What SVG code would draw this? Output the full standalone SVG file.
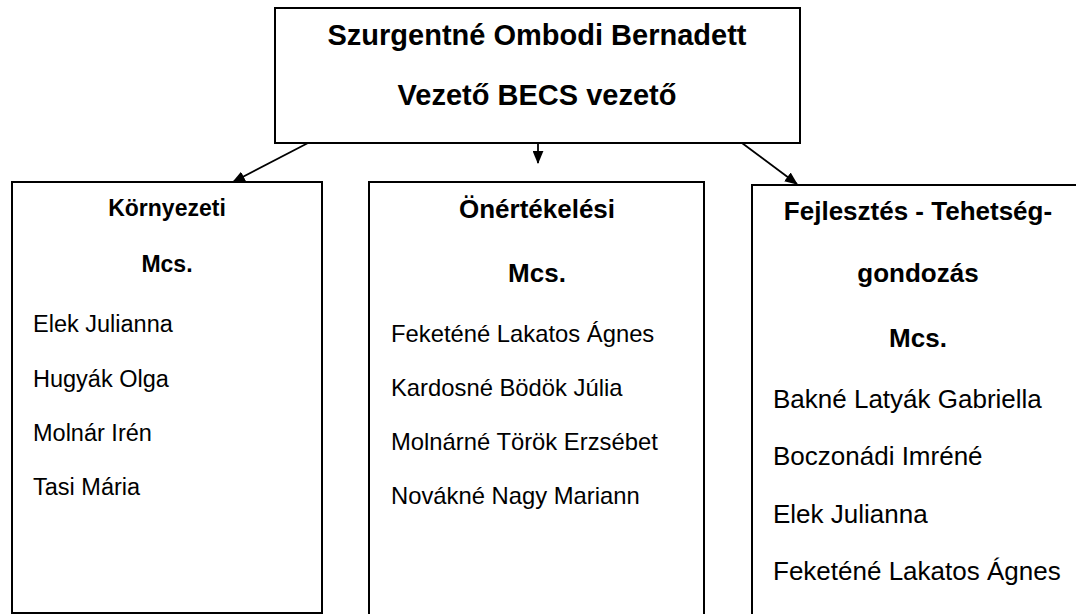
<svg xmlns="http://www.w3.org/2000/svg" width="1076" height="614" viewBox="0 0 1076 614">
<style>
.box{fill:#fff;stroke:#000;stroke-width:2}
.conn{stroke:#000;stroke-width:1.8;fill:none}
text{font-family:"Liberation Sans",Arial,sans-serif;fill:#000}
.b{font-weight:bold}
.c{text-anchor:middle}
</style>
<defs>
<marker id="ah" viewBox="0 0 12 10" refX="11" refY="5" markerWidth="13" markerHeight="11" markerUnits="userSpaceOnUse" orient="auto">
<path d="M0,0 L12,5 L0,10 Z" fill="#000"/>
</marker>
</defs>
<rect width="1076" height="614" fill="#fff"/>
<g id="top">
<rect class="box" x="275" y="8" width="525" height="135"/>
<text class="b c" x="537" y="45" font-size="29">Szurgentné Ombodi Bernadett</text>
<text class="b c" x="537" y="105" font-size="29">Vezető BECS vezető</text>
</g>
<g id="kornyezeti">
<rect class="box" x="12" y="182" width="310" height="431"/>
<text class="b c" x="167" y="216" font-size="23">Környezeti</text>
<text class="b c" x="167" y="272" font-size="23">Mcs.</text>
<text x="33" y="332" font-size="23.5">Elek Julianna</text>
<text x="33" y="387" font-size="23.5">Hugyák Olga</text>
<text x="33" y="441" font-size="23.5">Molnár Irén</text>
<text x="33" y="495" font-size="23.5">Tasi Mária</text>
</g>
<g id="onertekelesi">
<rect class="box" x="369" y="182" width="335" height="440"/>
<text class="b c" x="537" y="218" font-size="26">Önértékelési</text>
<text class="b c" x="537" y="282" font-size="26">Mcs.</text>
<text x="391" y="342" font-size="23.8">Feketéné Lakatos Ágnes</text>
<text x="391" y="396" font-size="23.8">Kardosné Bödök Júlia</text>
<text x="391" y="450" font-size="23.8">Molnárné Török Erzsébet</text>
<text x="391" y="504" font-size="23.8">Novákné Nagy Mariann</text>
</g>
<g id="fejlesztes">
<rect class="box" x="752" y="185" width="340" height="440"/>
<text class="b c" x="918" y="220" font-size="26">Fejlesztés - Tehetség-</text>
<text class="b c" x="918" y="282" font-size="26">gondozás</text>
<text class="b c" x="918" y="347" font-size="26">Mcs.</text>
<text x="773" y="408" font-size="26">Bakné Latyák Gabriella</text>
<text x="773" y="465" font-size="26">Boczonádi Imréné</text>
<text x="773" y="523" font-size="26">Elek Julianna</text>
<text x="773" y="580" font-size="26">Feketéné Lakatos Ágnes</text>
</g>
<g id="connectors">
<line class="conn" x1="308" y1="143" x2="233" y2="182" marker-end="url(#ah)"/>
<line class="conn" x1="538" y1="143" x2="538" y2="163" marker-end="url(#ah)"/>
<line class="conn" x1="742" y1="143" x2="797" y2="184" marker-end="url(#ah)"/>
</g>
</svg>
